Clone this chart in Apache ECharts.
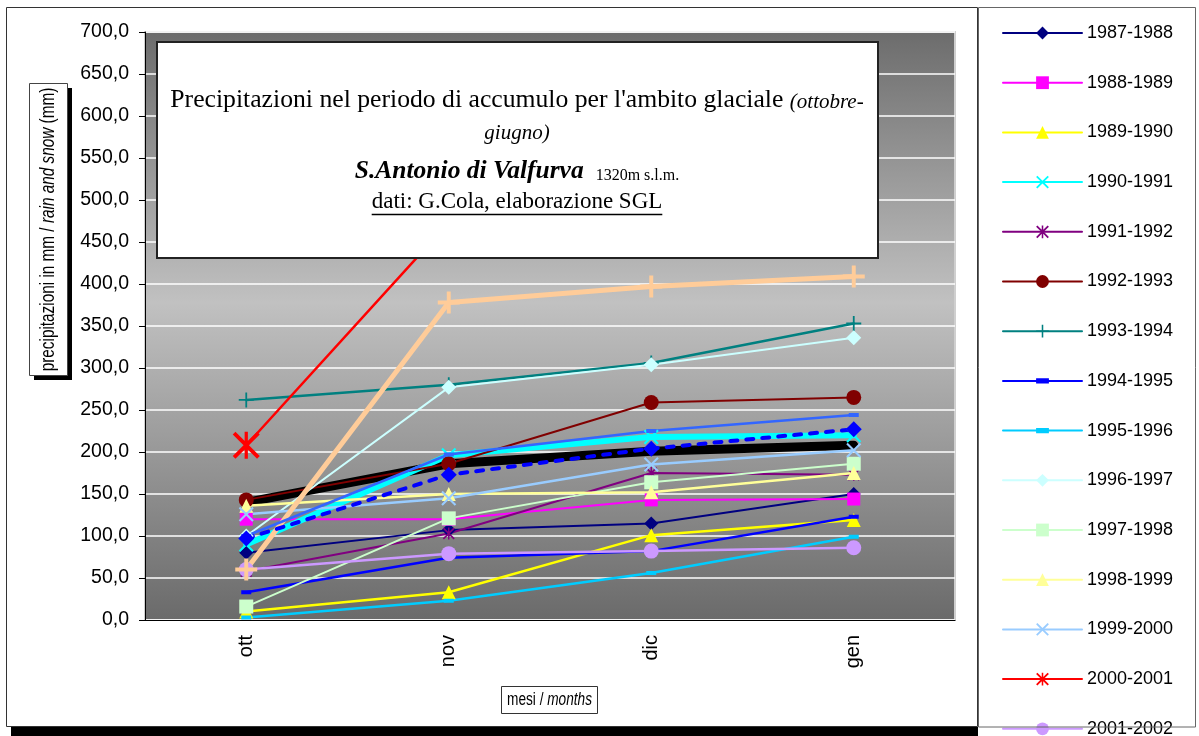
<!DOCTYPE html>
<html>
<head>
<meta charset="utf-8">
<script src="https://cdn.jsdelivr.net/npm/echarts@6/dist/echarts.min.js"></script>
<style>
html, body { margin: 0; padding: 0; background: #ffffff; }
#chart { width: 1199px; height: 736px; }
</style>
</head>
<body>
<div id="chart"></div>
<script>
// Months of the accumulation period shown on the category axis
const months = ['ott', 'nov', 'dic', 'gen'];

// Cumulative precipitation (mm) per season, oct -> jan
const p1987_1988 = [80, 107, 115, 150];
const p1988_1989 = [120, 120, 143, 144];
const p1989_1990 = [10, 33, 101, 119];
const p1990_1991 = [90, 196, 218, 220];
const p1991_1992 = [58, 103, 175, 173];
const p1992_1993 = [143, 186, 259, 265];
const p1993_1994 = [262, 280, 306, 353];
const p1994_1995 = [33, 74, 82, 123];
const p1995_1996 = [3, 23, 56, 99];
const p1996_1997 = [100, 277, 304, 336];
const p1997_1998 = [16, 121, 164, 186];
const p1998_1999 = [136, 150, 152, 175];
const p1999_2000 = [126, 145, 185, 202];
const p2000_2001 = [208, 473, 530, 575];
const p2001_2002 = [60, 79, 82, 86];
const p2002_2003 = [60, 378, 397, 409];
const p2003_2004 = [100, 197, 225, 244];
const p2004_2005 = [97, 173, 204, 227];
const p2005_2006 = [140, 186, 201, 208];

// Seasons listed in the legend box
const legendSeasons = ['1987-1988', '1988-1989', '1989-1990', '1990-1991', '1991-1992',
  '1992-1993', '1993-1994', '1994-1995', '1995-1996', '1996-1997', '1997-1998',
  '1998-1999', '1999-2000', '2000-2001', '2001-2002'];

// Marker shapes
const X_MARK = 'path://M0,1L1,0L5,4L9,0L10,1L6,5L10,9L9,10L5,6L1,10L0,9L4,5Z';
const STAR_MARK = 'path://M0,1L1,0L5,4L9,0L10,1L6,5L10,9L9,10L5,6L1,10L0,9L4,5ZM4.4,0H5.6V10H4.4Z';
const PLUS_MARK = 'path://M4.4,0H5.6V4.4H10V5.6H5.6V10H4.4V5.6H0V4.4H4.4Z';
const PLUS_BOLD = 'path://M4.1,0H5.9V4.1H10V5.9H5.9V10H4.1V5.9H0V4.1H4.1Z';
const DASH_MARK = 'path://M5,0L5,0ZM0,3H10V7H0ZM5,10L5,10Z';

// Series in drawing order (first is drawn underneath)
const seriesList = [
  { name: '2005-2006', data: p2005_2006, color: '#000000', width: 9, symbol: 'none', size: 0 },
  { name: '1987-1988', data: p1987_1988, color: '#000080', width: 2, symbol: 'diamond', size: 14 },
  { name: '1988-1989', data: p1988_1989, color: '#ff00ff', width: 2, symbol: 'rect', size: 13 },
  { name: '1989-1990', data: p1989_1990, color: '#ffff00', width: 2.5, symbol: 'triangle', size: 14 },
  { name: '1990-1991', data: p1990_1991, color: '#00ffff', width: 6, symbol: X_MARK, size: 15 },
  { name: '1991-1992', data: p1991_1992, color: '#800080', width: 2, symbol: STAR_MARK, size: 12 },
  { name: '1992-1993', data: p1992_1993, color: '#800000', width: 2, symbol: 'circle', size: 15 },
  { name: '1993-1994', data: p1993_1994, color: '#008080', width: 2.5, symbol: PLUS_MARK, size: 15 },
  { name: '1994-1995', data: p1994_1995, color: '#0000ff', width: 2.5, symbol: DASH_MARK, size: 10 },
  { name: '1995-1996', data: p1995_1996, color: '#00ccff', width: 2.5, symbol: DASH_MARK, size: 10 },
  { name: '1996-1997', data: p1996_1997, color: '#ccffff', width: 2, symbol: 'diamond', size: 15 },
  { name: '1997-1998', data: p1997_1998, color: '#ccffcc', width: 2, symbol: 'rect', size: 14 },
  { name: '1998-1999', data: p1998_1999, color: '#ffff99', width: 2.5, symbol: 'triangle', size: 14 },
  { name: '1999-2000', data: p1999_2000, color: '#99ccff', width: 2.5, symbol: X_MARK, size: 15 },
  { name: '2000-2001', data: p2000_2001, color: '#ff0000', width: 2.5, symbol: STAR_MARK, size: 27 },
  { name: '2001-2002', data: p2001_2002, color: '#cc99ff', width: 2.5, symbol: 'circle', size: 15 },
  { name: '2002-2003', data: p2002_2003, color: '#ffcc99', width: 5, symbol: PLUS_BOLD, size: 22 },
  { name: '2003-2004', data: p2003_2004, color: '#3366ff', width: 2.5, symbol: DASH_MARK, size: 10 },
  { name: '2004-2005', data: p2004_2005, color: '#0000ff', width: 4, dash: [7, 9], symbol: 'diamond', size: 16 }
];

const SANS = "'Liberation Sans', Arial, sans-serif";
const SERIF = "'Liberation Serif', 'DejaVu Serif', serif";

// measure text so the underline follows the credit line
const measureCtx = document.createElement('canvas').getContext('2d');
function textWidth(font, txt) { measureCtx.font = font; return measureCtx.measureText(txt).width; }

const creditText = 'dati: G.Cola, elaborazione SGL';
const creditFont = '23px ' + SERIF;
const creditW = textWidth(creditFont, creditText);
const titleCx = 517;

const chart = echarts.init(document.getElementById('chart'), null, { renderer: 'canvas' });

const option = {
  animation: false,
  backgroundColor: '#ffffff',
  grid: {
    left: 145, right: 244, top: 32, bottom: 116,
    show: true,
    borderColor: '#cfcfcf',
    borderWidth: 2,
    backgroundColor: {
      type: 'linear', x: 0, y: 0, x2: 0, y2: 1,
      colorStops: [
        { offset: 0, color: '#6c6c6c' },
        { offset: 0.46, color: '#c1c1c1' },
        { offset: 1, color: '#6a6a6a' }
      ]
    }
  },
  legend: {
    orient: 'vertical',
    left: 1002,
    top: 24,
    height: 900,
    padding: 0,
    itemWidth: 79,
    itemHeight: 16,
    itemGap: 31.7,
    data: legendSeasons,
    selectedMode: false,
    textStyle: { fontFamily: SANS, fontSize: 18, lineHeight: 18, color: '#000' }
  },
  xAxis: [
    {
      type: 'category',
      data: months,
      boundaryGap: true,
      axisLine: { lineStyle: { color: '#000', width: 1 } },
      axisTick: { alignWithLabel: true, length: 6, lineStyle: { color: '#000' } },
      axisLabel: { rotate: 90, margin: 15, fontSize: 20, fontFamily: SANS, color: '#000' },
      splitLine: { show: false }
    },
    {
      type: 'category',
      data: months,
      position: 'bottom',
      boundaryGap: true,
      axisLine: { show: false },
      axisLabel: { show: false },
      axisTick: { inside: true, length: 6, lineStyle: { color: '#000' } },
      splitLine: { show: false }
    }
  ],
  yAxis: {
    type: 'value',
    min: 0,
    max: 700,
    interval: 50,
    axisLine: { show: true, lineStyle: { color: '#000', width: 1 } },
    axisTick: { show: true, length: 6, lineStyle: { color: '#000' } },
    axisLabel: {
      margin: 16, fontSize: 19.5, fontFamily: SANS, color: '#000',
      formatter: v => v.toFixed(1).replace('.', ',')
    },
    splitLine: { lineStyle: { color: '#ffffff', width: 1.5 } }
  },
  series: seriesList.map(s => ({
    type: 'line',
    name: s.name,
    data: s.data,
    xAxisIndex: 0,
    symbol: s.symbol,
    symbolSize: s.size,
    symbolKeepAspect: true,
    showSymbol: s.symbol !== 'none',
    itemStyle: { color: s.color },
    lineStyle: { color: s.color, width: s.width, type: s.dash || 'solid', cap: 'round', join: 'round' },
    emphasis: { disabled: true },
    silent: true
  })),
  graphic: [
    // outer frame of the chart and its shadow
    { type: 'rect', z: 100, shape: { x: 6.5, y: 7.5, width: 971, height: 719 }, style: { fill: 'none', stroke: '#333', lineWidth: 1 } },
    { type: 'rect', z: 100, shape: { x: 11, y: 727, width: 967, height: 10 }, style: { fill: '#000' } },
    // legend frame
    { type: 'rect', z: 100, shape: { x: 978.5, y: 7.5, width: 217, height: 719.5 }, style: { fill: 'none', stroke: '#666', lineWidth: 1 } },
    // y axis title box
    { type: 'rect', z: 100, shape: { x: 34, y: 88, width: 38, height: 292 }, style: { fill: '#000' } },
    { type: 'rect', z: 101, shape: { x: 29.5, y: 83.5, width: 38, height: 292 }, style: { fill: '#fff', stroke: '#444', lineWidth: 1 } },
    {
      type: 'text', z: 102, x: 48.5, y: 229.5, rotation: Math.PI / 2, scaleX: 0.73,
      style: {
        x: 0, y: 0, align: 'center', verticalAlign: 'middle',
        text: '{a|precipitazioni in mm / }{b|rain and snow}{a| (mm)}',
        rich: {
          a: { fontFamily: SANS, fontSize: 21, fill: '#000', verticalAlign: 'bottom' },
          b: { fontFamily: SANS, fontSize: 21, fontStyle: 'italic', fill: '#000', verticalAlign: 'bottom' }
        }
      }
    },
    // x axis title box
    { type: 'rect', z: 101, shape: { x: 501.5, y: 686.5, width: 96, height: 27 }, style: { fill: '#fff', stroke: '#333', lineWidth: 1 } },
    {
      type: 'text', z: 102, x: 549.5, y: 700, scaleX: 0.78,
      style: {
        x: 0, y: 0, align: 'center', verticalAlign: 'middle',
        text: '{a|mesi / }{b|months}',
        rich: {
          a: { fontFamily: SANS, fontSize: 17.5, fill: '#000', verticalAlign: 'bottom' },
          b: { fontFamily: SANS, fontSize: 17.5, fontStyle: 'italic', fill: '#000', verticalAlign: 'bottom' }
        }
      }
    },
    // title box
    { type: 'rect', z: 110, shape: { x: 157, y: 42, width: 721, height: 216 }, style: { fill: '#fff', stroke: '#222', lineWidth: 2 } },
    {
      type: 'text', z: 111, x: titleCx, y: 99,
      style: {
        x: 0, y: 0, align: 'center', verticalAlign: 'middle',
        text: "{a|Precipitazioni nel periodo di accumulo per l'ambito glaciale }{i|(ottobre-}",
        rich: {
          a: { fontFamily: SERIF, fontSize: 25.7, fill: '#000', verticalAlign: 'bottom', lineHeight: 28 },
          i: { fontFamily: SERIF, fontSize: 21, fontStyle: 'italic', fill: '#000', verticalAlign: 'bottom', lineHeight: 26 }
        }
      }
    },
    {
      type: 'text', z: 111, x: titleCx, y: 133,
      style: { x: 0, y: 0, align: 'center', verticalAlign: 'middle', text: 'giugno)', fontFamily: SERIF, fontSize: 21, fontStyle: 'italic', fill: '#000' }
    },
    {
      type: 'text', z: 111, x: titleCx, y: 170,
      style: {
        x: 0, y: 0, align: 'center', verticalAlign: 'middle',
        text: '{b|S.Antonio di Valfurva}{s|   1320m s.l.m.}',
        rich: {
          b: { fontFamily: SERIF, fontSize: 25.5, fontStyle: 'italic', fontWeight: 'bold', fill: '#000', verticalAlign: 'bottom', lineHeight: 28 },
          s: { fontFamily: SERIF, fontSize: 16, fill: '#000', verticalAlign: 'bottom', lineHeight: 24 }
        }
      }
    },
    {
      type: 'text', z: 111, x: titleCx, y: 202,
      style: { x: 0, y: 0, align: 'center', verticalAlign: 'middle', text: creditText, font: creditFont, fill: '#000' }
    },
    {
      type: 'line', z: 111,
      shape: { x1: titleCx - creditW / 2, y1: 214.5, x2: titleCx + creditW / 2, y2: 214.5 },
      style: { stroke: '#000', lineWidth: 1.4 }
    }
  ]
};

chart.setOption(option);
</script>
</body>
</html>
